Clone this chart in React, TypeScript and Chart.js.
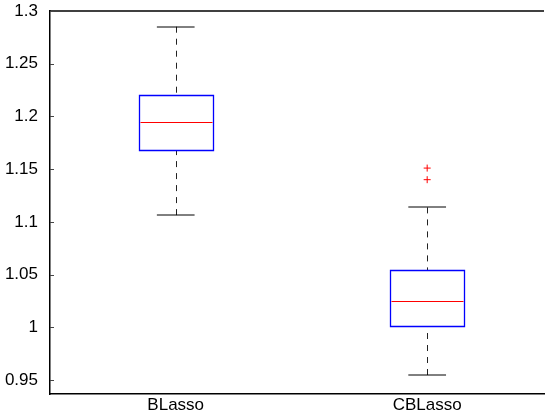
import { useEffect, useRef } from 'react';
import { Chart, registerables } from 'chart.js';

Chart.register(...registerables);

const categories = ['BLasso', 'CBLasso'];
const positions = [1, 2];
const whiskerLow = [1.1064, 0.9547];
const q1 = [1.1685, 1.0012];
const median = [1.1948, 1.025];
const q3 = [1.22, 1.0545];
const whiskerHigh = [1.2851, 1.1137];
const outlierX = [2, 2];
const outlierY = [1.151, 1.14];
const yTicks = [0.95, 1, 1.05, 1.1, 1.15, 1.2, 1.25, 1.3];

const FONT = "'Liberation Sans', Arial, Helvetica, sans-serif";
const BOX_HALF = 0.1475;
const CAP_HALF = 0.075;

const boxPlugin = {
  id: 'boxplotDraw',
  afterDatasetsDraw(chart: any) {
    const { ctx, chartArea } = chart;
    const xs = chart.scales.x;
    const ys = chart.scales.y;
    ctx.save();
    for (let i = 0; i < positions.length; i++) {
      const p = positions[i];
      const cx = Math.round(xs.getPixelForValue(p)) + 0.5;
      const bl = Math.round(xs.getPixelForValue(p - BOX_HALF)) + 0.5;
      const br = Math.round(xs.getPixelForValue(p + BOX_HALF)) + 0.5;
      const cl = xs.getPixelForValue(p - CAP_HALF);
      const cr = xs.getPixelForValue(p + CAP_HALF);
      const yQ1 = Math.round(ys.getPixelForValue(q1[i])) + 0.5;
      const yQ3 = Math.round(ys.getPixelForValue(q3[i])) + 0.5;
      const yMed = Math.round(ys.getPixelForValue(median[i])) + 0.5;
      const yLo = ys.getPixelForValue(whiskerLow[i]);
      const yHi = ys.getPixelForValue(whiskerHigh[i]);

      ctx.strokeStyle = '#222';
      ctx.lineWidth = 1;
      ctx.setLineDash([6, 6]);
      ctx.beginPath();
      ctx.moveTo(cx, yHi);
      ctx.lineTo(cx, yQ3);
      ctx.moveTo(cx, yLo);
      ctx.lineTo(cx, yQ1);
      ctx.stroke();
      ctx.setLineDash([]);

      ctx.strokeStyle = '#000';
      ctx.lineWidth = 1;
      ctx.beginPath();
      ctx.moveTo(cl, Math.round(yHi));
      ctx.lineTo(cr, Math.round(yHi));
      ctx.moveTo(cl, Math.round(yLo));
      ctx.lineTo(cr, Math.round(yLo));
      ctx.stroke();

      ctx.strokeStyle = '#0000ff';
      ctx.lineWidth = 1.3;
      ctx.beginPath();
      ctx.rect(bl, yQ3, br - bl, yQ1 - yQ3);
      ctx.stroke();

      ctx.strokeStyle = '#ff0000';
      ctx.lineWidth = 1;
      ctx.beginPath();
      ctx.moveTo(bl + 1, yMed);
      ctx.lineTo(br - 1, yMed);
      ctx.stroke();
    }

    ctx.strokeStyle = '#000';
    ctx.lineWidth = 1.5;
    ctx.beginPath();
    ctx.moveTo(chartArea.left, chartArea.top);
    ctx.lineTo(chartArea.right, chartArea.top);
    ctx.stroke();

    ctx.strokeStyle = '#444';
    ctx.lineWidth = 1;
    ctx.beginPath();
    for (const v of yTicks) {
      const y = Math.round(ys.getPixelForValue(v)) + 0.5;
      ctx.moveTo(chartArea.left, y);
      ctx.lineTo(chartArea.left + 4, y);
    }
    ctx.stroke();
    ctx.restore();
  },
};

export default function App() {
  const ref = useRef<HTMLCanvasElement | null>(null);

  useEffect(() => {
    if (!ref.current) return;
    const chart = new Chart(ref.current, {
      type: 'scatter',
      data: {
        datasets: [
          {
            label: 'outliers',
            data: outlierX.map((x, i) => ({ x, y: outlierY[i] })),
            pointStyle: 'cross',
            radius: 3.5,
            borderColor: '#ff0000',
            backgroundColor: '#ff0000',
            borderWidth: 1,
          },
        ],
      },
      options: {
        animation: false,
        responsive: false,
        devicePixelRatio: 1,
        layout: { padding: { top: 11, right: 0, left: 0, bottom: 0 } },
        plugins: { legend: { display: false }, tooltip: { enabled: false } },
        scales: {
          x: {
            type: 'linear',
            min: 0.5,
            max: 2.4646,
            grid: { display: false },
            border: { display: true, color: '#000', width: 1.5 },
            afterBuildTicks: (scale: any) => {
              scale.ticks = positions.map((v) => ({ value: v }));
            },
            afterFit: (scale: any) => {
              scale.height = 16;
              scale.paddingLeft = 0;
              scale.paddingRight = 0;
            },
            ticks: {
              color: '#000',
              font: { family: FONT, size: 17 },
              padding: -7,
              maxRotation: 0,
              autoSkip: false,
              callback: (v: any) => {
                const idx = positions.indexOf(Number(v));
                return idx >= 0 ? categories[idx] : '';
              },
            },
          },
          y: {
            type: 'linear',
            min: 0.9367,
            max: 1.3,
            grid: { display: false },
            border: { display: true, color: '#000', width: 1.5 },
            afterBuildTicks: (scale: any) => {
              scale.ticks = yTicks.map((v) => ({ value: v }));
            },
            afterFit: (scale: any) => {
              scale.width = 50;
              scale.paddingTop = 0;
              scale.paddingBottom = 0;
            },
            ticks: {
              color: '#000',
              font: { family: FONT, size: 17 },
              padding: 4,
              autoSkip: false,
              callback: (v: any) => String(Number(v)),
            },
          },
        },
      },
      plugins: [boxPlugin],
    });
    return () => chart.destroy();
  }, []);

  return (
    <div style={{ position: 'fixed', left: 0, top: 0, width: 549, height: 410, background: '#fff' }}>
      <canvas ref={ref} width={549} height={410} style={{ display: 'block' }} />
    </div>
  );
}
